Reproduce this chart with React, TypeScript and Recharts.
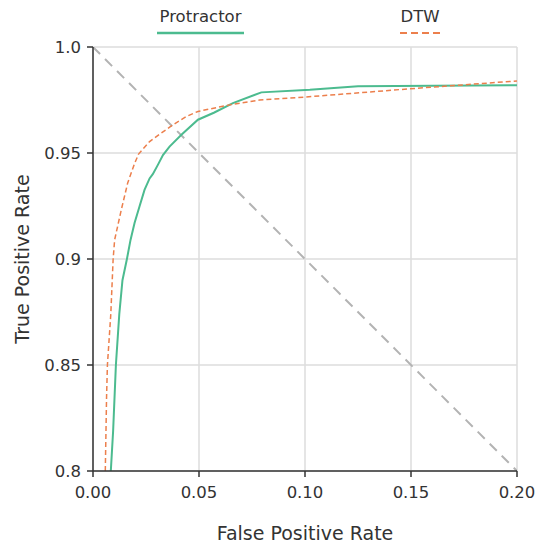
import React from 'react';
import {
  LineChart, Line, XAxis, YAxis, CartesianGrid, Label,
} from 'recharts';

// ROC curves
const protractorFpr = [0.0084, 0.0095, 0.0108, 0.0124, 0.0139, 0.016, 0.0177, 0.0196, 0.022, 0.0243, 0.0267, 0.0282, 0.0306, 0.033, 0.0361, 0.0417, 0.0495, 0.057, 0.066, 0.0794, 0.1023, 0.125, 0.2];
const protractorTpr = [0.8, 0.819, 0.85, 0.874, 0.89, 0.9, 0.909, 0.917, 0.925, 0.9326, 0.938, 0.94, 0.9444, 0.949, 0.953, 0.9586, 0.9657, 0.969, 0.9735, 0.9786, 0.9798, 0.9815, 0.982];

const dtwFpr = [0.0058, 0.0064, 0.0068, 0.0084, 0.0095, 0.0102, 0.0133, 0.0164, 0.0196, 0.0215, 0.0267, 0.0322, 0.0377, 0.044, 0.0495, 0.0645, 0.0786, 0.1, 0.1495, 0.2];
const dtwTpr = [0.8, 0.835, 0.85, 0.874, 0.9, 0.909, 0.923, 0.936, 0.945, 0.9495, 0.9554, 0.9594, 0.9633, 0.9672, 0.9696, 0.9727, 0.975, 0.9764, 0.9803, 0.984];

const diagFpr = [0, 0.2];
const diagTpr = [1.0, 0.8];

const xTicks = [0, 0.05, 0.1, 0.15, 0.2];
const yTicks = [0.8, 0.85, 0.9, 0.95, 1.0];
const yTickLabels = ['0.8', '0.85', '0.9', '0.95', '1.0'];

const GREEN = '#4cbb8f';
const ORANGE = '#ec7f4c';
const FONT = '"DejaVu Sans", sans-serif';

const zip = (xs: number[], ys: number[]) => xs.map((x, i) => ({ x, y: ys[i] }));

export default function App() {
  const protractor = zip(protractorFpr, protractorTpr);
  const dtw = zip(dtwFpr, dtwTpr);
  const diag = zip(diagFpr, diagTpr);

  const tick = { fontSize: 16.5, fill: '#333', fontFamily: FONT };

  return (
    <div style={{ position: 'absolute', left: 0, top: 0, width: 537, height: 547, background: '#fff', fontFamily: FONT }}>
      {/* Legend */}
      <div style={{ position: 'absolute', left: 150, top: 7, width: 101, textAlign: 'center', fontSize: 16.5, color: '#333' }}>
        Protractor
      </div>
      <svg style={{ position: 'absolute', left: 0, top: 0 }} width={537} height={40}>
        <line x1={157} y1={33} x2={244} y2={33} stroke={GREEN} strokeWidth={2.5} />
        <line x1={400} y1={33} x2={441} y2={33} stroke={ORANGE} strokeWidth={2} strokeDasharray="7 4" />
      </svg>
      <div style={{ position: 'absolute', left: 390, top: 7, width: 60, textAlign: 'center', fontSize: 16.5, color: '#333' }}>
        DTW
      </div>

      <LineChart width={537} height={547} margin={{ top: 47, right: 20, bottom: 0, left: 0 }}>
        <CartesianGrid stroke="#dcdcdc" strokeWidth={1.5} />
        <XAxis
          type="number" dataKey="x" domain={[0, 0.2]} ticks={xTicks}
          tickFormatter={v => v.toFixed(2)}
          tick={tick} tickSize={6} tickMargin={9} height={76}
          stroke="#333" strokeWidth={1.5} allowDataOverflow
        >
          <Label value="False Positive Rate" position="center" dy={24}
            style={{ fontSize: 19, fill: '#333', fontFamily: FONT }} />
        </XAxis>
        <YAxis
          type="number" dataKey="y" domain={[0.8, 1.0]} ticks={yTicks}
          tickFormatter={v => yTickLabels[yTicks.indexOf(v)] ?? String(v)}
          tick={tick} tickSize={6} tickMargin={6} width={93}
          stroke="#333" strokeWidth={1.5} allowDataOverflow
        >
          <Label value="True Positive Rate" position="center" angle={-90} dx={-24}
            style={{ fontSize: 19, fill: '#333', fontFamily: FONT, textAnchor: 'middle' }} />
        </YAxis>
        <Line data={diag} dataKey="y" type="linear" stroke="#b3b3b3" strokeWidth={2}
          strokeDasharray="10 7" dot={false} isAnimationActive={false} />
        <Line data={protractor} dataKey="y" type="linear" stroke={GREEN} strokeWidth={2}
          dot={false} isAnimationActive={false} />
        <Line data={dtw} dataKey="y" type="linear" stroke={ORANGE} strokeWidth={1.5}
          strokeDasharray="5 3" dot={false} isAnimationActive={false} />
      </LineChart>
    </div>
  );
}
